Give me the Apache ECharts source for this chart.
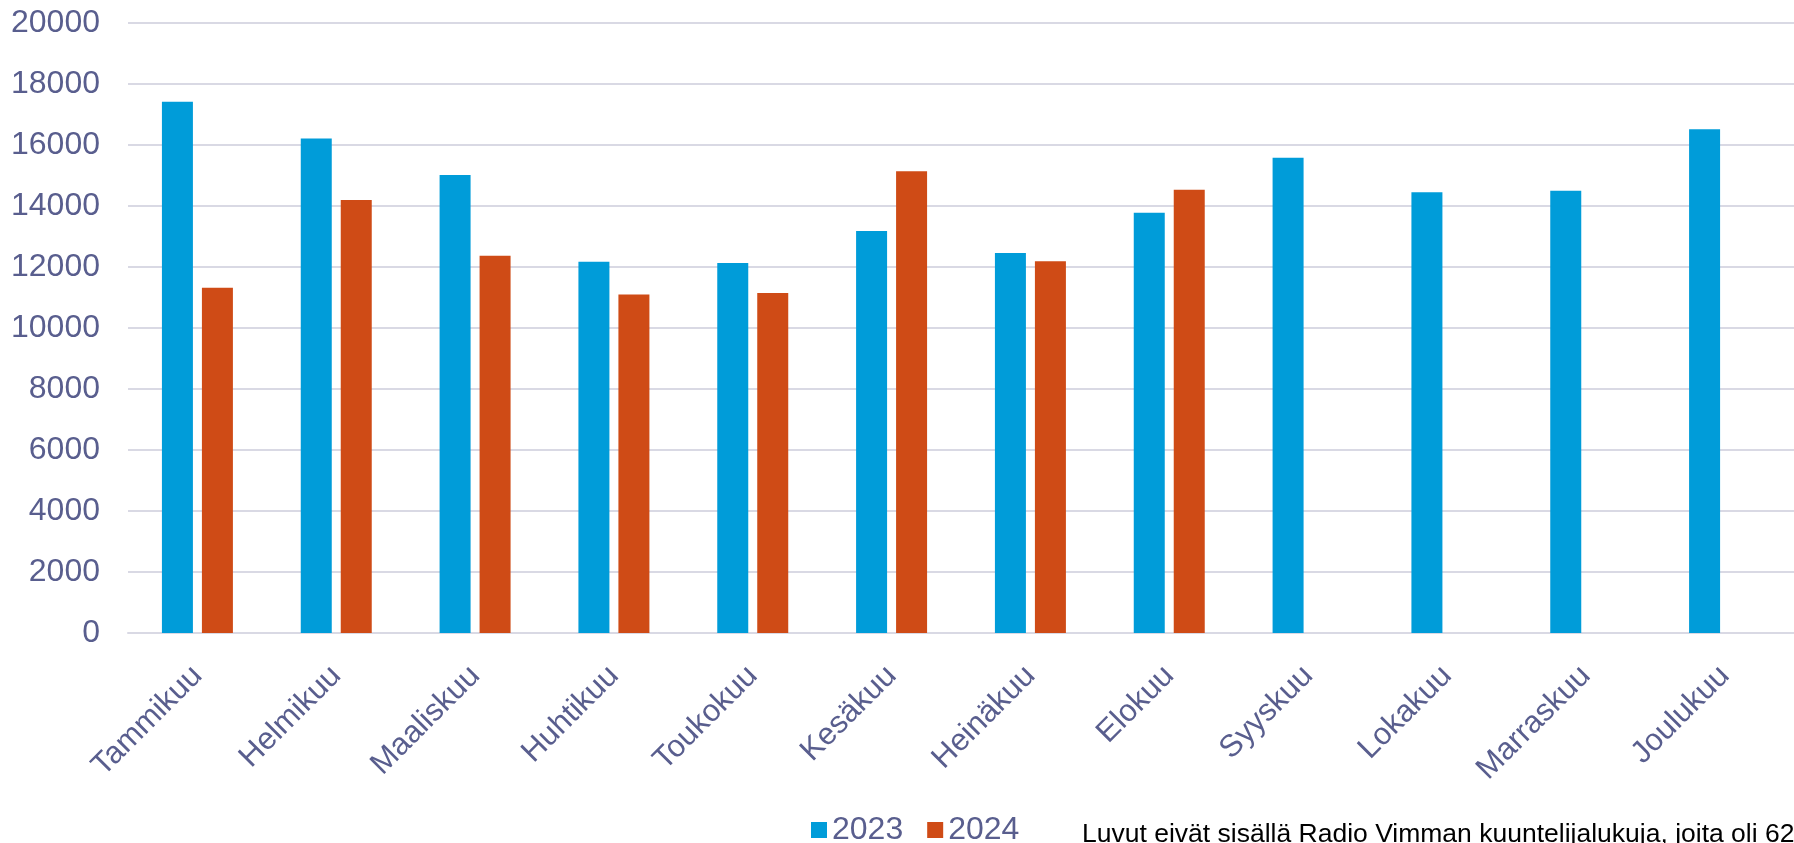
<!DOCTYPE html>
<html>
<head>
<meta charset="utf-8">
<style>
html,body{margin:0;padding:0;background:#fff;}
#chart{width:1794px;height:843px;}
</style>
<script src="https://cdn.jsdelivr.net/npm/echarts@6/dist/echarts.min.js"></script>
</head>
<body>
<div id="chart"></div>
<script>
var categories = ['Tammikuu','Helmikuu','Maaliskuu','Huhtikuu','Toukokuu','Kesäkuu','Heinäkuu','Elokuu','Syyskuu','Lokakuu','Marraskuu','Joulukuu'];
var values2023 = [17420, 16210, 15020, 12170, 12130, 13180, 12460, 13780, 15585, 14450, 14500, 16515];
var values2024 = [11320, 14200, 12365, 11095, 11150, 15140, 12190, 14535, null, null, null, null];
var seriesNames = ['2023', '2024'];
var footnote = 'Luvut eivät sisällä Radio Vimman kuuntelijalukuja, joita oli 62';

var labelColor = '#595e8e';
var gridColor = '#d9d9e4';
var font = 'Liberation Sans, Arial, sans-serif';

var chart = echarts.init(document.getElementById('chart'));
chart.setOption({
  animation: false,
  backgroundColor: '#ffffff',
  grid: {left: 128, top: 23, width: 1670, height: 610, containLabel: false},
  legend: {
    data: seriesNames,
    left: 811,
    top: 814,
    itemWidth: 16,
    itemHeight: 16,
    itemGap: 24,
    icon: 'rect',
    textStyle: {color: labelColor, fontSize: 32, fontFamily: font, padding: [0,0,0,0]},
    padding: 0
  },
  xAxis: {
    type: 'category',
    data: categories,
    axisLine: {lineStyle: {color: gridColor, width: 2}},
    axisTick: {show: false},
    axisLabel: {rotate: 45, color: labelColor, fontSize: 31, fontFamily: font, margin: 38, interval: 0}
  },
  yAxis: {
    type: 'value',
    min: 0,
    max: 20000,
    interval: 2000,
    axisLine: {show: false},
    axisTick: {show: false},
    splitLine: {lineStyle: {color: gridColor, width: 2}},
    axisLabel: {color: labelColor, fontSize: 32, fontFamily: font, margin: 28, formatter: function (v) { return String(v); }}
  },
  graphic: [{
    type: 'text',
    left: 1082,
    top: 821,
    style: {text: footnote, fill: '#000000', font: '26.5px Liberation Sans, Arial, sans-serif'}
  }],
  series: [
    {name: seriesNames[0], type: 'bar', data: values2023, barWidth: 31, barGap: '29%', itemStyle: {color: '#009cd9'}},
    {name: seriesNames[1], type: 'bar', data: values2024, barWidth: 31, barGap: '29%', itemStyle: {color: '#cf4b16'}}
  ]
});
</script>
</body>
</html>
